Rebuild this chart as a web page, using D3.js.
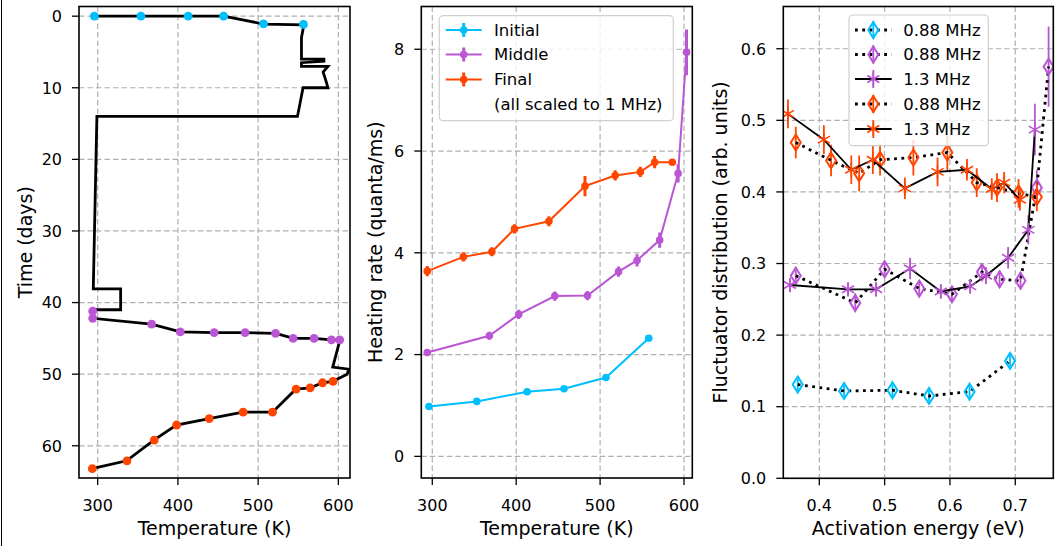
<!DOCTYPE html>
<html><head><meta charset="utf-8">
<script src="https://cdn.jsdelivr.net/npm/d3@7"></script>
<style>
body{margin:0;background:#fff;}
svg{display:block;font-family:"DejaVu Sans",sans-serif;}
</style></head>
<body><svg id="c" width="1056" height="546"></svg>
<script>
// ---------- Panel 1: temperature history ----------
const historyTemp = [295,354,413,457,507,557,554,554,582,582,554,554,587,581,585,587,556,549,299,294.5,328.6,328.6,294,294,367,403,445,484,522,544,570,591,602,593,613,611,593,580,565,547,518,481,439,398,370,336,293];
const historyDay  = [0,0,0,0,1.1,1.2,3,6.0,6.0,6.3,6.5,7.0,7.0,7.8,9.2,10,10,14,14,38.1,38.1,41,41,42.2,43,44.1,44.2,44.2,44.3,45,45,45.2,45.2,49,49.3,50,51,51.2,51.9,52.1,55.3,55.3,56.2,57.1,59.2,62.1,63.2];
const dotInitialT = [295.8,353.9,412.8,456.9,506.7,556.5];
const dotInitialDay = [0,0,0,0,1.07,1.16];
const dotMiddleT = [293.8,293.8,367.2,402.9,445.2,483.8,521.7,543.6,569.7,591.4,601.7];
const dotMiddleDay = [41.2,42.2,43.0,44.1,44.2,44.2,44.3,45.0,45.0,45.2,45.2];
const dotFinalT = [593.4,580.2,564.8,547.3,517.9,481.3,439,398.4,370.5,336.5,293.3];
const dotFinalDay = [51.0,51.2,51.9,52.1,55.3,55.3,56.2,57.1,59.2,62.1,63.2];
const p1XTicks = [300,400,500,600];
const p1YTicks = [0,10,20,30,40,50,60];

// ---------- Panel 2: heating rate ----------
const initT = [296,353,413,457,507,558];
const initRate = [0.98,1.08,1.27,1.33,1.55,2.32];
const initErr = [0.03,0.03,0.03,0.03,0.04,0.05];
const midT = [294,368,403,446,485,522,544,571,593,603];
const midRate = [2.04,2.37,2.79,3.15,3.16,3.63,3.85,4.25,5.56,7.94];
const midErr = [0.06,0.08,0.09,0.09,0.09,0.1,0.12,0.15,0.18,0.45];
const finT = [294,337,371,398,439,482,518,548,565,586];
const finRate = [3.64,3.92,4.02,4.47,4.62,5.31,5.52,5.59,5.78,5.78];
const finErr = [0.1,0.09,0.09,0.09,0.1,0.2,0.1,0.1,0.12,0.03];
const p2XTicks = [300,400,500,600];
const p2YTicks = [0,2,4,6,8];
const p2Legend = ["Initial","Middle","Final","(all scaled to 1 MHz)"];

// ---------- Panel 3: fluctuator distribution ----------
const blueDE = [0.367,0.438,0.512,0.568,0.630,0.692];
const blueD = [0.131,0.122,0.123,0.115,0.121,0.164];
const blueDErr = [0.008,0.008,0.008,0.008,0.008,0.008];
const purpleDE = [0.364,0.455,0.500,0.553,0.603,0.649,0.676,0.708,0.733,0.751];
const purpleD = [0.283,0.245,0.292,0.265,0.257,0.288,0.278,0.276,0.406,0.575];
const purpleDErr = [0.012,0.013,0.012,0.012,0.012,0.012,0.012,0.012,0.025,0.056];
const purpleSE = [0.355,0.444,0.487,0.539,0.586,0.631,0.655,0.689,0.720,0.730];
const purpleS = [0.270,0.264,0.264,0.293,0.261,0.268,0.283,0.308,0.347,0.487];
const purpleSErr = [0.01,0.01,0.01,0.015,0.01,0.01,0.012,0.015,0.02,0.036];
const orangeDE = [0.364,0.418,0.461,0.493,0.544,0.596,0.641,0.672,0.705,0.733];
const orangeD = [0.469,0.444,0.426,0.445,0.448,0.455,0.413,0.406,0.398,0.393];
const orangeDErr = [0.022,0.022,0.025,0.022,0.025,0.025,0.02,0.02,0.02,0.02];
const orangeSE = [0.352,0.407,0.449,0.482,0.531,0.581,0.626,0.664,0.683,0.707];
const orangeS = [0.509,0.473,0.431,0.445,0.405,0.428,0.431,0.404,0.413,0.389];
const orangeSErr = [0.02,0.02,0.02,0.02,0.015,0.02,0.015,0.015,0.015,0.015];
const p3XTicks = [0.4,0.5,0.6,0.7];
const p3YTicks = [0.0,0.1,0.2,0.3,0.4,0.5,0.6];
const p3Legend = ["0.88 MHz","0.88 MHz","1.3 MHz","0.88 MHz","1.3 MHz"];

const BLUE="#00bfff", PURPLE="#ba55d3", ORANGE="#ff4500";
const svg = d3.select("#c");
const TICK=16, LAB=19;

// vertical line at far left (figure artifact)
svg.append("line").attr("x1",1.5).attr("x2",1.5).attr("y1",0).attr("y2",546).attr("stroke","#000").attr("stroke-width",1);

function panel(id, x0, x1, y0, y1, xs, ys, xTicks, yTicks, xFmt, yFmt, xLabel, yLabel, yLabX){
  const g = svg.append("g");
  g.append("clipPath").attr("id",id).append("rect").attr("x",x0).attr("y",y0).attr("width",x1-x0).attr("height",y1-y0);
  const grid = g.append("g").attr("stroke","#b0b0b0").attr("stroke-width",1.2).attr("stroke-dasharray","5.5,3");
  xTicks.forEach(t=>grid.append("line").attr("x1",xs(t)).attr("x2",xs(t)).attr("y1",y0).attr("y2",y1));
  yTicks.forEach(t=>grid.append("line").attr("x1",x0).attr("x2",x1).attr("y1",ys(t)).attr("y2",ys(t)));
  xTicks.forEach(t=>{
    g.append("line").attr("x1",xs(t)).attr("x2",xs(t)).attr("y1",y1).attr("y2",y1+7).attr("stroke","#000").attr("stroke-width",1.3);
    g.append("text").attr("x",xs(t)).attr("y",y1+32.5).attr("text-anchor","middle").attr("font-size",TICK).text(xFmt(t));
  });
  yTicks.forEach(t=>{
    g.append("line").attr("x1",x0-7).attr("x2",x0).attr("y1",ys(t)).attr("y2",ys(t)).attr("stroke","#000").attr("stroke-width",1.3);
    g.append("text").attr("x",x0-17).attr("y",ys(t)).attr("dy","0.36em").attr("text-anchor","end").attr("font-size",TICK).text(yFmt(t));
  });
  g.append("text").attr("x",(x0+x1)/2).attr("y",535).attr("text-anchor","middle").attr("font-size",LAB).text(xLabel);
  g.append("text").attr("transform",`translate(${yLabX},${(y0+y1)/2}) rotate(-90)`).attr("text-anchor","middle").attr("font-size",LAB).text(yLabel);
  const plot = g.append("g").attr("clip-path",`url(#${id})`);
  return {g, plot, frame:()=>g.append("rect").attr("x",x0).attr("y",y0).attr("width",x1-x0).attr("height",y1-y0).attr("fill","none").attr("stroke","#000").attr("stroke-width",1.6)};
}

// ---------- Panel 1 ----------
const x1s = d3.scaleLinear().domain([276.7,614.5]).range([79,350]);
const y1s = d3.scaleLinear().domain([-1.35,64.5]).range([6.5,478]);
const P1 = panel("clip1",79,350,6.5,478,x1s,y1s,p1XTicks,p1YTicks,d=>d,d=>d,"Temperature (K)","Time (days)",31.7);
P1.plot.append("path").datum(d3.range(historyTemp.length))
  .attr("d",d3.line().x(i=>x1s(historyTemp[i])).y(i=>y1s(historyDay[i])))
  .attr("fill","none").attr("stroke","#000").attr("stroke-width",2.8).attr("stroke-linejoin","miter");
[[dotInitialT,dotInitialDay,BLUE],[dotMiddleT,dotMiddleDay,PURPLE],[dotFinalT,dotFinalDay,ORANGE]].forEach(([T,D,c])=>{
  P1.plot.selectAll(null).data(T).enter().append("circle")
    .attr("cx",(t)=>x1s(t)).attr("cy",(t,i)=>y1s(D[i])).attr("r",4.4).attr("fill",c);
});
P1.frame();

// ---------- Panel 2 ----------
const x2s = d3.scaleLinear().domain([286.9,609.9]).range([421.3,692.3]);
const y2s = d3.scaleLinear().domain([8.84,-0.425]).range([6.5,478]);
const P2 = panel("clip2",421.3,692.3,6.5,478,x2s,y2s,p2XTicks,p2YTicks,d=>d,d=>d,"Temperature (K)","Heating rate (quanta/ms)",381.7);
[[initT,initRate,initErr,BLUE],[midT,midRate,midErr,PURPLE],[finT,finRate,finErr,ORANGE]].forEach(([T,R,E,c])=>{
  P2.plot.append("path").datum(d3.range(T.length))
    .attr("d",d3.line().x(i=>x2s(T[i])).y(i=>y2s(R[i])))
    .attr("fill","none").attr("stroke",c).attr("stroke-width",2);
  T.forEach((t,i)=>{
    P2.plot.append("line").attr("x1",x2s(t)).attr("x2",x2s(t)).attr("y1",y2s(R[i]-E[i])).attr("y2",y2s(R[i]+E[i])).attr("stroke",c).attr("stroke-width",3);
    P2.plot.append("circle").attr("cx",x2s(t)).attr("cy",y2s(R[i])).attr("r",3.8).attr("fill",c);
  });
});
P2.frame();
{
  const lg = P2.g.append("g");
  lg.append("rect").attr("x",439.3).attr("y",15.7).attr("width",234).attr("height",105).attr("rx",4)
    .attr("fill","#fff").attr("fill-opacity",0.8).attr("stroke","#d0d0d0").attr("stroke-width",1.2);
  const cols=[BLUE,PURPLE,ORANGE];
  const rowsY=[30,54.5,79.5,104.5];
  p2Legend.forEach((t,i)=>{
    if(i<3){
      lg.append("line").attr("x1",445.7).attr("x2",481.7).attr("y1",rowsY[i]).attr("y2",rowsY[i]).attr("stroke",cols[i]).attr("stroke-width",2);
      lg.append("line").attr("x1",463.7).attr("x2",463.7).attr("y1",rowsY[i]-7).attr("y2",rowsY[i]+7).attr("stroke",cols[i]).attr("stroke-width",3);
      lg.append("circle").attr("cx",463.7).attr("cy",rowsY[i]).attr("r",3.8).attr("fill",cols[i]);
    }
    lg.append("text").attr("x",494).attr("y",rowsY[i]).attr("dy","0.36em").attr("font-size",16.5).text(t);
  });
}

// ---------- Panel 3 ----------
const x3s = d3.scaleLinear().domain([0.3449,0.7582]).range([783.3,1053.3]);
const y3s = d3.scaleLinear().domain([0.659,0]).range([6.5,478.3]);
const P3 = panel("clip3",783.3,1053.3,6.5,478.3,x3s,y3s,p3XTicks,p3YTicks,d=>d.toFixed(1),d=>d.toFixed(1),"Activation energy (eV)","Fluctuator distribution (arb. units)",726.7);

function diamond(g,cx,cy,c){
  g.append("path").attr("d",`M${cx},${cy-8}L${cx+5},${cy}L${cx},${cy+8}L${cx-5},${cy}Z`)
    .attr("fill","none").attr("stroke",c).attr("stroke-width",2);
}
function star(g,cx,cy,c){
  const r=7;
  [90,30,150].forEach(a=>{
    const dx=r*Math.cos(a*Math.PI/180), dy=r*Math.sin(a*Math.PI/180);
    g.append("line").attr("x1",cx-dx).attr("x2",cx+dx).attr("y1",cy-dy).attr("y2",cy+dy).attr("stroke",c).attr("stroke-width",1.6);
  });
}
const series3 = [
  [blueDE,blueD,blueDErr,BLUE,"dot","d"],
  [purpleDE,purpleD,purpleDErr,PURPLE,"dot","d"],
  [purpleSE,purpleS,purpleSErr,PURPLE,"solid","s"],
  [orangeDE,orangeD,orangeDErr,ORANGE,"dot","d"],
  [orangeSE,orangeS,orangeSErr,ORANGE,"solid","s"]
];
series3.forEach(([E,V,Er,c,ls,mk])=>{
  E.forEach((e,i)=>{
    P3.plot.append("line").attr("x1",x3s(e)).attr("x2",x3s(e)).attr("y1",y3s(V[i]-Er[i])).attr("y2",y3s(V[i]+Er[i])).attr("stroke",c).attr("stroke-width",1.8);
  });
  const path = P3.plot.append("path").datum(d3.range(E.length))
    .attr("d",d3.line().x(i=>x3s(E[i])).y(i=>y3s(V[i])))
    .attr("fill","none").attr("stroke","#000");
  if(ls==="dot") path.attr("stroke-width",2.8).attr("stroke-dasharray","2.8,4.5");
  else path.attr("stroke-width",1.8);
  E.forEach((e,i)=>{ if(mk==="d") diamond(P3.plot,x3s(e),y3s(V[i]),c); else star(P3.plot,x3s(e),y3s(V[i]),c); });
});
P3.frame();
{
  const lg = P3.g.append("g");
  lg.append("rect").attr("x",849).attr("y",15).attr("width",139.3).attr("height",130.7).attr("rx",4)
    .attr("fill","#fff").attr("fill-opacity",0.8).attr("stroke","#d0d0d0").attr("stroke-width",1.2);
  const rowsY=[30,54.5,79,104,129];
  series3.forEach(([E,V,Er,c,ls,mk],i)=>{
    const y=rowsY[i];
    const ln = lg.append("line").attr("x1",855).attr("x2",891.7).attr("y1",y).attr("y2",y).attr("stroke","#000");
    if(ls==="dot") ln.attr("stroke-width",2.8).attr("stroke-dasharray","2.8,4.5"); else ln.attr("stroke-width",1.8);
    lg.append("line").attr("x1",873.3).attr("x2",873.3).attr("y1",y-9).attr("y2",y+9).attr("stroke",c).attr("stroke-width",1.8);
    if(mk==="d") diamond(lg,873.3,y,c); else star(lg,873.3,y,c);
    lg.append("text").attr("x",903.3).attr("y",y).attr("dy","0.36em").attr("font-size",16.5).text(p3Legend[i]);
  });
}
</script></body></html>
